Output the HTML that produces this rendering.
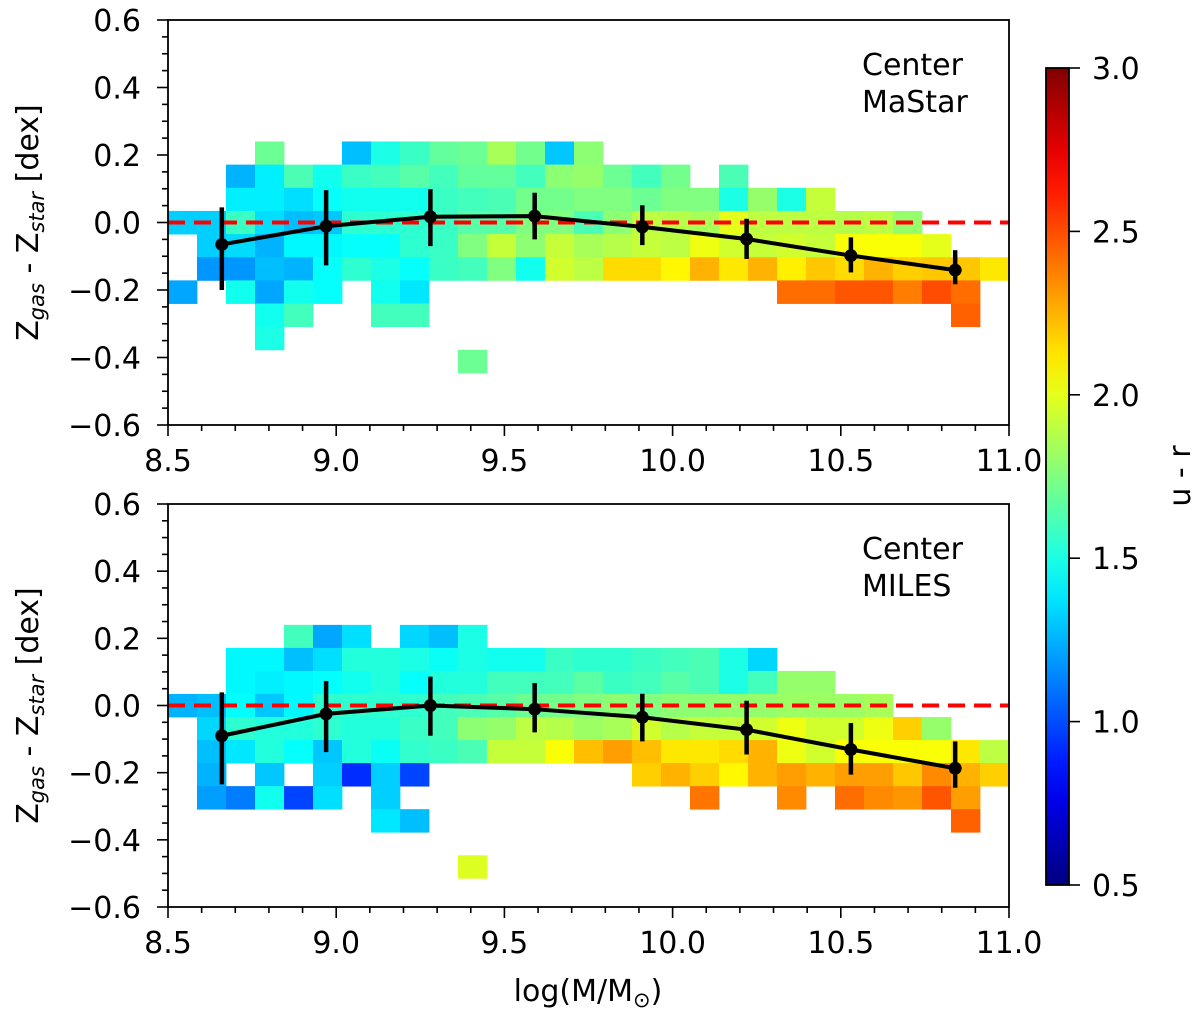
<!DOCTYPE html>
<html><head><meta charset="utf-8"><style>
html,body{margin:0;padding:0;background:#fff;}
svg{display:block;font-family:"DejaVu Sans","Liberation Sans",sans-serif;}
</style></head><body>
<svg id="fig" width="1200" height="1020" viewBox="0 0 1200 1020" xmlns="http://www.w3.org/2000/svg">
<defs>
<linearGradient id="jetgrad" x1="0" y1="1" x2="0" y2="0"></linearGradient>
</defs>
</svg>
<script>
var n = null;
// x grid: 29 mass bins between 8.5 and 11.0
var xBinStart = 8.5, xBinEnd = 11.0, xBinCount = 29;
var yBinSize = 0.0686;
// Top panel (MaStar): rows from k=3 down to k=-6
var topKStart = 3;
var topRow3 = [n,n,n,1.7,n,n,1.28,1.5,1.58,1.68,1.7,1.85,1.72,1.3,1.78,n,n,n,n,n,n,n,n,n,n,n,n,n,n];
var topRow2 = [n,n,1.25,1.4,1.62,1.48,1.58,1.6,1.65,1.6,1.68,1.68,1.6,1.78,1.8,1.7,1.6,1.72,n,1.62,n,n,n,n,n,n,n,n,n];
var topRow1 = [n,n,1.4,1.4,1.36,1.45,1.48,1.48,1.48,1.58,1.6,1.62,1.72,1.72,1.75,1.75,1.7,1.75,1.75,1.5,1.8,1.5,1.92,n,n,n,n,n,n];
var topRow0 = [1.32,1.32,1.58,1.36,1.28,1.3,1.55,1.55,1.55,1.58,1.65,1.65,1.75,1.75,1.62,1.78,1.9,1.88,1.85,2.0,1.9,1.9,1.9,1.88,1.9,1.8,n,n,n];
var topRowM1 = [n,1.32,1.35,1.25,1.42,1.42,1.45,1.45,1.55,1.58,1.75,1.92,1.78,1.92,1.85,1.88,1.92,1.9,2.02,1.95,1.92,1.95,1.92,2.05,2.05,2.05,2.0,n,n];
var topRowM2 = [n,1.18,1.18,1.28,1.25,1.45,1.55,1.5,1.45,1.58,1.6,1.75,1.48,1.95,1.9,2.15,2.15,2.08,2.25,2.12,2.25,2.1,2.2,2.15,2.25,2.18,2.2,2.2,2.12];
var topRowM3 = [1.22,n,1.48,1.22,1.48,1.45,n,1.48,1.38,n,n,n,n,n,n,n,n,n,n,n,n,2.42,2.42,2.48,2.48,2.38,2.5,2.42,n];
var topRowM4 = [n,n,n,1.48,1.6,n,n,1.6,1.6,n,n,n,n,n,n,n,n,n,n,n,n,n,n,n,n,n,n,2.45,n];
var topRowM5 = [n,n,n,1.5,n,n,n,n,n,n,n,n,n,n,n,n,n,n,n,n,n,n,n,n,n,n,n,n,n];
var topRowM6 = [n,n,n,n,n,n,n,n,n,n,1.7,n,n,n,n,n,n,n,n,n,n,n,n,n,n,n,n,n,n];
// Bottom panel (MILES): rows from k=3 down to k=-7
var botKStart = 3;
var botRow3 = [n,n,n,n,1.6,1.22,1.36,n,1.34,1.28,1.5,n,n,n,n,n,n,n,n,n,n,n,n,n,n,n,n,n,n];
var botRow2 = [n,n,1.42,1.42,1.28,1.36,1.52,1.52,1.5,1.46,1.5,1.48,1.48,1.58,1.55,1.55,1.58,1.6,1.62,1.5,1.34,n,n,n,n,n,n,n,n];
var botRow1 = [n,n,1.42,1.4,1.42,1.44,1.48,1.52,1.45,1.52,1.52,1.6,1.6,1.6,1.66,1.58,1.6,1.65,1.62,1.5,1.6,1.8,1.8,n,n,n,n,n,n];
var botRow0 = [1.25,1.28,1.44,1.3,1.42,1.55,1.55,1.55,1.55,1.6,1.62,1.65,1.7,1.72,1.75,1.78,1.75,1.78,1.78,1.8,1.8,1.82,1.82,1.82,1.85,n,n,n,n];
var botRowM1 = [n,1.34,1.55,1.52,1.52,1.55,1.52,1.52,1.58,1.6,1.78,1.8,1.9,1.88,1.82,1.85,1.95,1.88,1.92,1.92,1.95,2.02,1.95,1.95,2.02,2.18,1.8,n,n];
var botRowM2 = [n,1.28,1.38,1.52,1.45,1.3,1.52,1.46,1.56,1.58,1.62,1.92,1.92,2.05,2.22,2.3,2.22,2.12,2.12,2.15,2.25,2.02,1.95,2.05,2.05,2.05,2.05,2.12,1.9];
var botRowM3 = [n,1.25,n,1.3,n,1.32,0.92,1.32,0.98,n,n,n,n,n,n,n,2.18,2.25,2.18,2.08,2.25,2.3,2.25,2.3,2.3,2.2,2.35,2.25,2.18];
var botRowM4 = [n,1.2,1.12,1.48,0.98,1.36,n,1.32,n,n,n,n,n,n,n,n,n,n,2.4,n,n,2.35,n,2.42,2.35,2.32,2.48,2.3,n];
var botRowM5 = [n,n,n,n,n,n,n,1.38,1.28,n,n,n,n,n,n,n,n,n,n,n,n,n,n,n,n,n,n,2.45,n];
var botRowM6 = [n,n,n,n,n,n,n,n,n,n,n,n,n,n,n,n,n,n,n,n,n,n,n,n,n,n,n,n,n];
var botRowM7 = [n,n,n,n,n,n,n,n,n,n,1.98,n,n,n,n,n,n,n,n,n,n,n,n,n,n,n,n,n,n];
// Median trend with error bars
var trendX = [8.66, 8.97, 9.28, 9.59, 9.91, 10.22, 10.53, 10.84];
var topMedian = [-0.065, -0.011, 0.017, 0.019, -0.013, -0.049, -0.098, -0.141];
var topErrUp = [0.11, 0.107, 0.082, 0.069, 0.064, 0.06, 0.054, 0.059];
var topErrDown = [0.135, 0.116, 0.087, 0.069, 0.054, 0.059, 0.05, 0.042];
var botMedian = [-0.09, -0.025, 0.0, -0.011, -0.035, -0.072, -0.131, -0.187];
var botErrUp = [0.129, 0.098, 0.086, 0.078, 0.07, 0.086, 0.079, 0.08];
var botErrDown = [0.145, 0.114, 0.09, 0.069, 0.072, 0.074, 0.075, 0.058];
// Axis ticks
var xTicks = [8.5, 9.0, 9.5, 10.0, 10.5, 11.0];
var xTickLabels = ["8.5", "9.0", "9.5", "10.0", "10.5", "11.0"];
var yTicks = [0.6, 0.4, 0.2, 0.0, -0.2, -0.4, -0.6];
var yTickLabels = ["0.6", "0.4", "0.2", "0.0", "\u22120.2", "\u22120.4", "\u22120.6"];
var cbTicks = [3.0, 2.5, 2.0, 1.5, 1.0, 0.5];
var cbTickLabels = ["3.0", "2.5", "2.0", "1.5", "1.0", "0.5"];
var cMin = 0.5, cMax = 3.0;

var NS = "http://www.w3.org/2000/svg";
var svg = document.getElementById('fig');
var FS = 30;
function mk(tag, attrs, parent) {
  var e = document.createElementNS(NS, tag);
  for (var k in attrs) e.setAttribute(k, attrs[k]);
  (parent || svg).appendChild(e);
  return e;
}
function clip(v) { return Math.max(0, Math.min(1, v)); }
function jet(v) {
  var t = clip((v - cMin) / (cMax - cMin));
  var r = clip(1.5 - Math.abs(4 * t - 3)), g = clip(1.5 - Math.abs(4 * t - 2)), b = clip(1.5 - Math.abs(4 * t - 1));
  return 'rgb(' + Math.round(r * 255) + ',' + Math.round(g * 255) + ',' + Math.round(b * 255) + ')';
}
var X0 = 168, X1 = 1009;
function xs(v) { return X0 + (v - 8.5) / 2.5 * (X1 - X0); }

function drawPanel(p) {
  var g = mk('g', {});
  
  
  function ys(v) { return p.top + (0.6 - v) / 1.2 * (p.bottom - p.top); }
  var cw = (xBinEnd - xBinStart) / xBinCount;
  var cells = mk('g', {}, g);
  
  
  p.rows.forEach(function (row, i) {
    var k = p.kStart - i;
    var yTopV = (k + 0.5) * yBinSize, yBotV = (k - 0.5) * yBinSize;
    row.forEach(function (val, c) {
      if (val === null) return;
      var xa = xs(xBinStart + c * cw), xb = xs(xBinStart + (c + 1) * cw);
      var r = mk('rect', { x: xa.toFixed(2), y: ys(yTopV).toFixed(2), width: (xb - xa + 0.4).toFixed(2), height: (ys(yBotV) - ys(yTopV) + 0.4).toFixed(2), fill: jet(val) }, cells);
      
      
    });
  });
  var zl = mk('line', { x1: X0, x2: X1, y1: ys(0), y2: ys(0), stroke: '#ff0000', 'stroke-width': 4, 'stroke-dasharray': '17,9' }, g);
  
  
  var pts = trendX.map(function (x, i) { return xs(x).toFixed(2) + ',' + ys(p.med[i]).toFixed(2); }).join(' ');
  var pl = mk('polyline', { points: pts, fill: 'none', stroke: '#000', 'stroke-width': 4 }, g);
  
  
  trendX.forEach(function (x, i) {
    var eb = mk('line', { x1: xs(x), x2: xs(x), y1: ys(p.med[i] + p.up[i]), y2: ys(p.med[i] - p.down[i]), stroke: '#000', 'stroke-width': 4.5 }, g);
    
    
    var pt = mk('circle', { cx: xs(x), cy: ys(p.med[i]), r: 6.5, fill: '#000' }, g);
    
    
  });
  var fr = mk('rect', { x: X0, y: p.top, width: X1 - X0, height: p.bottom - p.top, fill: 'none', stroke: '#000', 'stroke-width': 1.8 }, g);
  
  
  for (var m = 0; m <= 24; m++) {
    var v = 0.6 - m * 0.05;
    var major = (m % 4 === 0);
    var tk = mk('line', { x1: X0, x2: X0 - (major ? 11 : 6), y1: ys(v), y2: ys(v), stroke: '#000', 'stroke-width': 1.6 }, g);
    
    
  }
  yTicks.forEach(function (v, i) {
    var t = mk('text', { x: 141, y: ys(v) + 11, 'text-anchor': 'end', 'font-size': FS }, g);
    t.textContent = yTickLabels[i];
    
    
  });
  for (var j = 0; j <= 25; j++) {
    var xv = 8.5 + j * 0.1;
    var maj = (j % 5 === 0);
    var xt = mk('line', { x1: xs(xv), x2: xs(xv), y1: p.bottom, y2: p.bottom + (maj ? 11 : 6), stroke: '#000', 'stroke-width': 1.6 }, g);
    
    
  }
  xTicks.forEach(function (v, i) {
    var t = mk('text', { x: xs(v), y: p.bottom + 46, 'text-anchor': 'middle', 'font-size': FS }, g);
    t.textContent = xTickLabels[i];
    
    
  });
  var cy = (p.top + p.bottom) / 2;
  var yl = mk('text', { x: 0, y: 0, 'text-anchor': 'middle', 'font-size': FS, transform: 'translate(38,' + cy + ') rotate(-90)' }, g);
  
  
  yl.innerHTML = 'Z<tspan font-style="italic" font-size="21" dy="6">gas</tspan><tspan dy="-6"> - Z</tspan><tspan font-style="italic" font-size="21" dy="6">star</tspan><tspan dy="-6"> [dex]</tspan>';
  var a1 = mk('text', { x: 862, y: p.top + 55, 'font-size': FS }, g);
  a1.textContent = 'Center';
  
  
  var a2 = mk('text', { x: 862, y: p.top + 92, 'font-size': FS }, g);
  a2.textContent = p.label;
  
  
}

drawPanel({ name: 'top-panel-mastar', top: 20, bottom: 425, kStart: topKStart,
  rows: [topRow3, topRow2, topRow1, topRow0, topRowM1, topRowM2, topRowM3, topRowM4, topRowM5, topRowM6],
  med: topMedian, up: topErrUp, down: topErrDown, label: 'MaStar' });
drawPanel({ name: 'bottom-panel-miles', top: 504, bottom: 907, kStart: botKStart,
  rows: [botRow3, botRow2, botRow1, botRow0, botRowM1, botRowM2, botRowM3, botRowM4, botRowM5, botRowM6, botRowM7],
  med: botMedian, up: botErrUp, down: botErrDown, label: 'MILES' });

var xl = mk('text', { x: 588, y: 1001, 'text-anchor': 'middle', 'font-size': FS });


xl.innerHTML = 'log(M/M<tspan font-size="21" dy="6">\u2299</tspan><tspan dy="-6">)</tspan>';

var grad = document.getElementById('jetgrad');
for (var s = 0; s <= 20; s++) {
  mk('stop', { offset: (s / 20 * 100) + '%', 'stop-color': jet(cMin + s / 20 * (cMax - cMin)) }, grad);
}
var CB_X = 1046, CB_W = 23, CB_T = 68, CB_B = 885;
function cs(v) { return CB_B - (v - cMin) / (cMax - cMin) * (CB_B - CB_T); }
var cb = mk('rect', { x: CB_X, y: CB_T, width: CB_W, height: CB_B - CB_T, fill: 'url(#jetgrad)', stroke: '#000', 'stroke-width': 1.8 });


cbTicks.forEach(function (v, i) {
  var l = mk('line', { x1: CB_X + CB_W, x2: CB_X + CB_W + 11, y1: cs(v), y2: cs(v), stroke: '#000', 'stroke-width': 1.6 });
  
  
  var t = mk('text', { x: 1092, y: cs(v) + 11, 'font-size': FS });
  t.textContent = cbTickLabels[i];
  
  
});
var cl = mk('text', { x: 0, y: 0, 'text-anchor': 'middle', 'font-size': FS, transform: 'translate(1190,476) rotate(-90)' });
cl.textContent = 'u - r';


</script>
</body></html>
